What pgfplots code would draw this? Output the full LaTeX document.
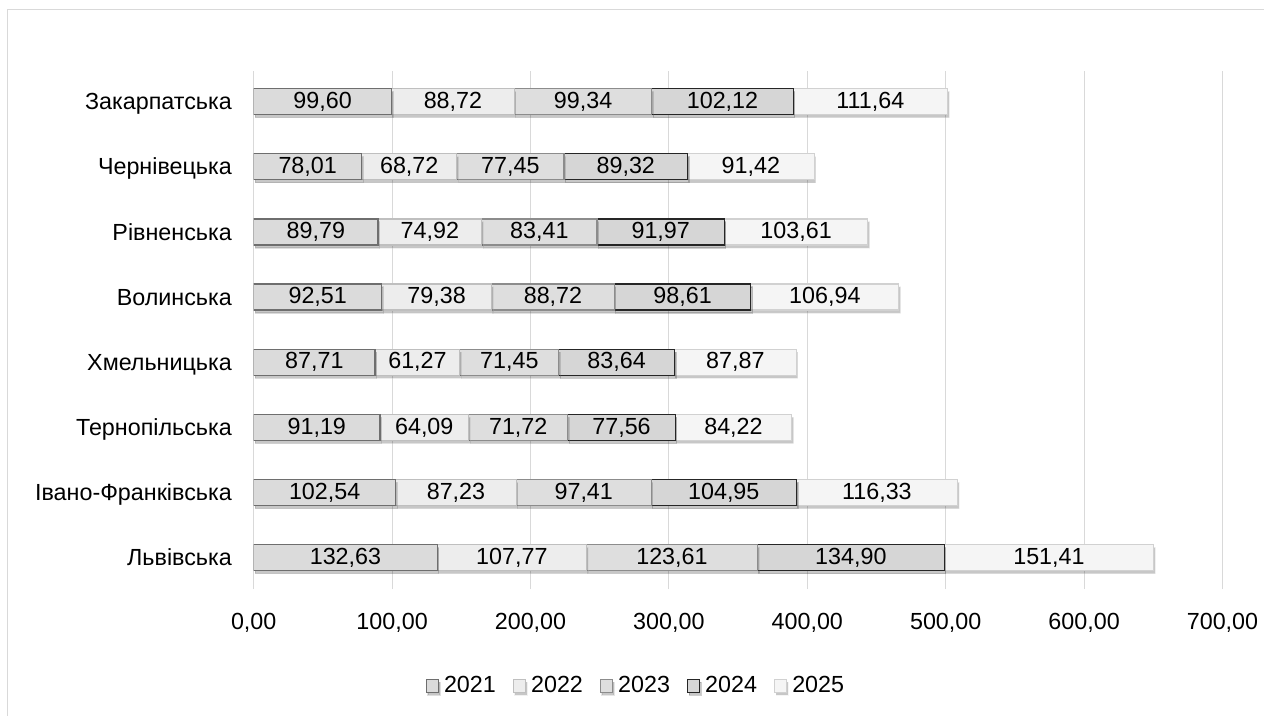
\documentclass[border=0pt]{standalone}
\usepackage{pgfplots}
\pgfplotsset{compat=1.18}
\usepackage{pgfplotstable}
\usepackage{fontspec}
\setmainfont{Liberation Sans}
\usetikzlibrary{shadows}

% bottom row first: 0 = Львівська ... 7 = Закарпатська
\pgfplotstableread{
c y2021 y2022 y2023 y2024 y2025
0 132.63 107.77 123.61 134.90 151.41
1 102.54 87.23 97.41 104.95 116.33
2 91.19 64.09 71.72 77.56 84.22
3 87.71 61.27 71.45 83.64 87.87
4 92.51 79.38 88.72 98.61 106.94
5 89.79 74.92 83.41 91.97 103.61
6 78.01 68.72 77.45 89.32 91.42
7 99.60 88.72 99.34 102.12 111.64
}\regions

\definecolor{gridgray}{HTML}{D9D9D9}

\tikzset{
  shadowon/.style={drop shadow={shadow xshift=1.5bp, shadow yshift=-3bp, opacity=0.22, fill=black}},
  c2021/.style={draw=black!57, line width=1.2bp, fill=black!14},
  c2022/.style={draw=black!25, line width=1.2bp, fill=black!7},
  c2023/.style={draw=black!45, line width=1.2bp, fill=black!13},
  c2024/.style={draw=black!85, line width=1.2bp, fill=black!16},
  c2025/.style={draw=black!18, line width=1.2bp, fill=black!4},
}

% stacked bars put nodes near coords in the middle of each segment already
\newcommand{\segment}[2]{%
  \addplot[#1, shadowon, nodes near coords]
    table[x=#2, y=c, meta=#2] {\regions};
}

\begin{document}
\fontsize{23.4}{28}\selectfont
\begin{tikzpicture}
\useasboundingbox (-253.7bp,-127bp) rectangle (1010.3bp,589bp);
\draw[gridgray, line width=1bp] (-245.7bp,-127bp) -- (-245.7bp,579bp) -- (1010.3bp,579bp);
\begin{axis}[
  at={(0,0)}, anchor=south west,
  scale only axis, width=968.8bp, height=518bp,
  xbar stacked, bar width=26bp,
  xmin=0, xmax=700, ymin=-0.48, ymax=7.47,
  xtick={0,100,...,700},
  ytick={0,...,7},
  yticklabels={Львівська, Івано-Франківська, Тернопільська, Хмельницька,
    Волинська, Рівненська, Чернівецька, Закарпатська},
  xmajorgrids, ymajorgrids=false,
  major grid style={color=gridgray, line width=1bp},
  axis line style={draw=none},
  major tick length=0pt,
  point meta=explicit,
  tick label style={font=\fontsize{23.4}{28}\selectfont, text=black},
  xticklabel style={inner sep=0pt, yshift=-24.5bp},
  yticklabel style={inner sep=0pt, anchor=base east, xshift=-21.7bp, yshift=-8.2bp},
  nodes near coords style={font=\fontsize{23.4}{28}\selectfont, text=black},
  /pgf/number format/fixed,
  /pgf/number format/fixed zerofill,
  /pgf/number format/precision=2,
  /pgf/number format/use comma,
  /pgf/number format/1000 sep={},
  /pgf/number format/assume math mode=true,
  legend columns=-1,
  legend image code/.code={\tikzset{shadowon/.style={}, drop shadow/.style={}}%
    \draw[#1] (0bp,-6.5bp) rectangle (12bp,6.5bp);},
  legend style={at={(0.3946,-0.187)}, anchor=center, draw=none, fill=none,
    font=\fontsize{23.4}{28}\selectfont, text=black,
    nodes={inner sep=2bp},
    /tikz/every odd column/.append style={column sep=3bp},
    /tikz/every even column/.append style={column sep=15bp}},
]
\segment{c2021}{y2021}
\segment{c2022}{y2022}
\segment{c2023}{y2023}
\segment{c2024}{y2024}
\segment{c2025}{y2025}
\legend{2021,2022,2023,2024,2025}
\end{axis}
\end{tikzpicture}
\end{document}
